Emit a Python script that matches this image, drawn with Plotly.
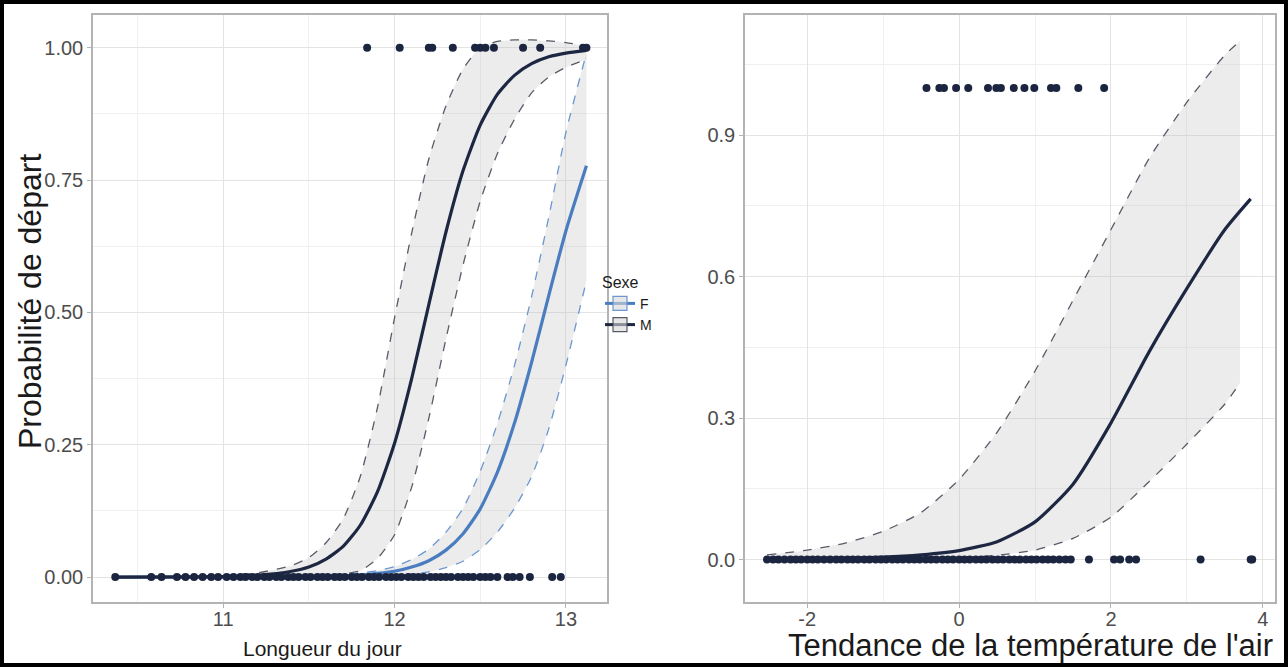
import plotly.graph_objects as go

# ---------------- Left panel data (day length) ----------------
day_grid = [10.37, 10.8, 11.0, 11.2, 11.4, 11.5, 11.6, 11.7, 11.8, 11.9, 12.0, 12.1,
            12.2, 12.3, 12.4, 12.5, 12.6, 12.7, 12.8, 12.9, 13.0, 13.12]
M_fit = [0.0, 0.0004, 0.0011, 0.0035, 0.011, 0.019, 0.034, 0.058, 0.098, 0.161, 0.253, 0.375,
         0.515, 0.652, 0.768, 0.854, 0.912, 0.948, 0.970, 0.983, 0.990, 0.995]
M_upper = [0.0, 0.001, 0.003, 0.008, 0.022, 0.037, 0.065, 0.11, 0.19, 0.32, 0.49, 0.65,
           0.79, 0.89, 0.96, 1.0, 1.012, 1.015, 1.015, 1.013, 1.01, 1.003]
M_lower = [0.0, 0.0, 0.0, 0.0003, 0.001, 0.002, 0.004, 0.006, 0.012, 0.035, 0.08, 0.17,
           0.30, 0.45, 0.59, 0.71, 0.80, 0.865, 0.915, 0.945, 0.963, 0.978]
F_fit = [0.0, 0.00005, 0.0001, 0.0002, 0.0005, 0.0008, 0.0015, 0.0025, 0.004, 0.007, 0.011, 0.019,
         0.031, 0.051, 0.082, 0.129, 0.198, 0.291, 0.406, 0.532, 0.654, 0.777]
F_upper = [0.0, 0.0001, 0.0003, 0.0006, 0.0015, 0.002, 0.003, 0.005, 0.008, 0.012, 0.02, 0.033,
           0.053, 0.085, 0.13, 0.2, 0.29, 0.40, 0.53, 0.68, 0.84, 0.99]
F_lower = [0.0, 0.0, 0.0, 0.0, 0.0, 0.0001, 0.0003, 0.0005, 0.001, 0.002, 0.003, 0.006,
           0.01, 0.018, 0.03, 0.052, 0.085, 0.13, 0.19, 0.28, 0.40, 0.56]

day_departed = [11.84, 12.03, 12.20, 12.22, 12.34, 12.47, 12.50, 12.53, 12.58, 12.75, 12.85, 13.10, 13.12]
day_stayed = [10.37, 10.58, 10.64, 10.73, 10.78, 10.83, 10.88, 10.93, 10.97, 11.02, 11.06, 11.10,
              11.13, 11.17, 11.20, 11.24, 11.27, 11.31, 11.34, 11.38, 11.41, 11.44, 11.48, 11.51,
              11.55, 11.58, 11.61, 11.65, 11.68, 11.71, 11.75, 11.78, 11.81, 11.85, 11.88, 11.91,
              11.95, 11.98, 12.01, 12.04, 12.08, 12.11, 12.14, 12.17, 12.21, 12.24, 12.27, 12.30,
              12.33, 12.37, 12.40, 12.43, 12.46, 12.50, 12.53, 12.56, 12.60, 12.66, 12.69, 12.73,
              12.79, 12.92, 12.97]

# ---------------- Right panel data (air temperature trend) ----------------
temp_grid = [-2.53, -2.0, -1.5, -1.0, -0.5, 0.0, 0.5, 1.0, 1.5, 2.0, 2.5, 3.0, 3.5, 3.84]
temp_fit = [0.001, 0.002, 0.003, 0.005, 0.01, 0.019, 0.038, 0.08, 0.16, 0.29, 0.44, 0.575,
            0.70, 0.765]
ci_grid = [-2.53, -2.0, -1.5, -1.0, -0.5, 0.0, 0.5, 1.0, 1.5, 2.0, 2.5, 3.0, 3.5, 3.7]
temp_upper = [0.01, 0.02, 0.035, 0.06, 0.1, 0.17, 0.27, 0.40, 0.55, 0.70, 0.85, 0.97, 1.07, 1.10]
temp_lower = [0.0, 0.0, 0.0, 0.001, 0.002, 0.004, 0.009, 0.02, 0.045, 0.09, 0.165, 0.245, 0.33, 0.375]

temp_departed = [-0.43, -0.26, -0.20, -0.04, 0.12, 0.38, 0.49, 0.55, 0.72, 0.86, 0.99, 1.21,
                 1.28, 1.57, 1.91]
temp_stayed = [-2.53, -2.45, -2.38, -2.30, -2.22, -2.15, -2.08, -2.00, -1.93, -1.86, -1.78, -1.70,
               -1.62, -1.55, -1.47, -1.40, -1.33, -1.25, -1.18, -1.10, -1.03, -0.96, -0.88, -0.81,
               -0.74, -0.66, -0.59, -0.52, -0.44, -0.37, -0.30, -0.22, -0.15, -0.08, 0.00, 0.07,
               0.14, 0.22, 0.29, 0.36, 0.44, 0.51, 0.58, 0.66, 0.73, 0.80, 0.88, 0.95, 1.02, 1.10,
               1.17, 1.24, 1.32, 1.40, 1.47, 1.71, 2.04, 2.12, 2.24, 2.33, 3.18, 3.84, 3.86]

sex_labels = ["F", "M"]
y_ticks_left = [0.0, 0.25, 0.5, 0.75, 1.0]
y_ticktext_left = ["0.00", "0.25", "0.50", "0.75", "1.00"]
x_ticks_left = [11, 12, 13]
y_ticks_right = [0.0, 0.3, 0.6, 0.9]
y_ticktext_right = ["0.0", "0.3", "0.6", "0.9"]
x_ticks_right = [-2, 0, 2, 4]
x_ticktext_right = ["-2", "0", "2", "4"]

# ---------------- Styling ----------------
NAVY = "#1d2742"
BLUE = "#4a7dc0"
M_DASH = "rgba(70,74,88,0.9)"
F_DASH = "rgba(100,145,205,0.95)"
RIBBON = "rgba(185,185,185,0.28)"
POINT = "#1c2540"
FONT = "Liberation Sans, Arial, sans-serif"
TITLE_COL = "#1a1a1a"

fig = go.Figure()


def ribbon(x, lo, hi, dash_color, xa, ya):
    fig.add_trace(go.Scatter(x=x, y=lo, mode="lines", line=dict(color=dash_color, width=1.3, dash="dash",
                                                                 shape="spline", smoothing=0.6),
                             showlegend=False, hoverinfo="skip", xaxis=xa, yaxis=ya))
    fig.add_trace(go.Scatter(x=x, y=hi, mode="lines", fill="tonexty", fillcolor=RIBBON,
                             line=dict(color=dash_color, width=1.3, dash="dash", shape="spline", smoothing=0.6),
                             showlegend=False, hoverinfo="skip", xaxis=xa, yaxis=ya))


# Left ribbons
ribbon(day_grid, M_lower, M_upper, M_DASH, "x", "y")
ribbon(day_grid, F_lower, F_upper, F_DASH, "x", "y")

# Left fitted lines
fig.add_trace(go.Scatter(x=day_grid, y=F_fit, mode="lines", name=sex_labels[0],
                         line=dict(color=BLUE, width=3.2, shape="spline", smoothing=0.6),
                         xaxis="x", yaxis="y", showlegend=False))
fig.add_trace(go.Scatter(x=day_grid, y=M_fit, mode="lines", name=sex_labels[1],
                         line=dict(color=NAVY, width=3.2, shape="spline", smoothing=0.6),
                         xaxis="x", yaxis="y", showlegend=False))

# Legend keys (ribbon box + line, like the ggplot key)
for lab, col, dcol in [(sex_labels[0], BLUE, F_DASH), (sex_labels[1], NAVY, M_DASH)]:
    fig.add_trace(go.Scatter(x=[None], y=[None], mode="lines+markers", name=lab,
                             line=dict(color=col, width=3),
                             marker=dict(symbol="square", size=14, color="rgba(215,215,215,0.6)",
                                         line=dict(color=dcol, width=1.2)),
                             xaxis="x", yaxis="y", showlegend=True))

# Left points
fig.add_trace(go.Scatter(x=day_stayed, y=[0] * len(day_stayed), mode="markers",
                         marker=dict(color=POINT, size=8), showlegend=False, xaxis="x", yaxis="y"))
fig.add_trace(go.Scatter(x=day_departed, y=[1] * len(day_departed), mode="markers",
                         marker=dict(color=POINT, size=8), showlegend=False, xaxis="x", yaxis="y"))

# Right ribbon + line
ribbon(ci_grid, temp_lower, temp_upper, M_DASH, "x2", "y2")
fig.add_trace(go.Scatter(x=temp_grid, y=temp_fit, mode="lines",
                         line=dict(color=NAVY, width=3.2, shape="spline", smoothing=0.6),
                         showlegend=False, xaxis="x2", yaxis="y2"))
fig.add_trace(go.Scatter(x=temp_stayed, y=[0] * len(temp_stayed), mode="markers",
                         marker=dict(color=POINT, size=8), showlegend=False, xaxis="x2", yaxis="y2"))
fig.add_trace(go.Scatter(x=temp_departed, y=[1] * len(temp_departed), mode="markers",
                         marker=dict(color=POINT, size=8), showlegend=False, xaxis="x2", yaxis="y2"))

axis_common = dict(showline=True, mirror=True, linecolor="#b3b3b3", linewidth=1.5,
                   gridcolor="#e3e3e3", gridwidth=1, zeroline=False,
                   ticks="outside", ticklen=4, tickcolor="#b3b3b3",
                   tickfont=dict(family=FONT, size=20, color="#4d4d4d"))

W, H = 1288, 667
ydom = [1 - 602 / H, 1 - 15 / H]

fig.update_layout(
    width=W, height=H,
    margin=dict(l=0, r=0, t=0, b=0),
    paper_bgcolor="white", plot_bgcolor="white",
    font=dict(family=FONT),
    xaxis=dict(domain=[93 / W, 607 / W], range=[10.24, 13.24], tickmode="array",
               tickvals=x_ticks_left, ticktext=[str(v) for v in x_ticks_left],
               minor=dict(showgrid=True, gridcolor="#f0f0f0", tickvals=[10.5, 11.5, 12.5]),
               ticklabelstandoff=-6, anchor="y", **axis_common),
    yaxis=dict(domain=ydom, range=[-0.047, 1.062], tickmode="array",
               tickvals=y_ticks_left, ticktext=y_ticktext_left,
               minor=dict(showgrid=True, gridcolor="#f0f0f0", tickvals=[0.125, 0.375, 0.625, 0.875]),
               anchor="x", **axis_common),
    xaxis2=dict(domain=[745 / W, 1275 / W], range=[-2.82, 4.16], tickmode="array",
                tickvals=x_ticks_right, ticktext=x_ticktext_right,
                minor=dict(showgrid=True, gridcolor="#f0f0f0", tickvals=[-1, 1, 3]),
                ticklabelstandoff=-6, anchor="y2", **axis_common),
    yaxis2=dict(domain=ydom, range=[-0.09, 1.155], tickmode="array",
                tickvals=y_ticks_right, ticktext=y_ticktext_right,
                minor=dict(showgrid=True, gridcolor="#f0f0f0", tickvals=[0.15, 0.45, 0.75, 1.05]),
                anchor="x2", **axis_common),
    legend=dict(x=600 / W, y=1 - 267 / H, xanchor="left", yanchor="top", traceorder="normal",
                title=dict(text="Sexe", font=dict(size=16, color=TITLE_COL)),
                font=dict(size=14, color=TITLE_COL), bgcolor="rgba(0,0,0,0)",
                itemwidth=30, tracegroupgap=0),
    annotations=[
        dict(text="Longueur du jour", xref="paper", yref="paper", x=322 / W, y=1 - 648 / H,
             xanchor="center", yanchor="middle", showarrow=False,
             font=dict(size=21, color=TITLE_COL, family=FONT)),
        dict(text="Tendance de la température de l'air", xref="paper", yref="paper",
             x=1030 / W, y=1 - 645 / H, xanchor="center", yanchor="middle", showarrow=False,
             font=dict(size=31, color=TITLE_COL, family=FONT)),
        dict(text="Probabilité de départ", xref="paper", yref="paper", x=30 / W, y=1 - 302 / H,
             xanchor="center", yanchor="middle", showarrow=False, textangle=-90,
             font=dict(size=32, color=TITLE_COL, family=FONT)),
    ],
    shapes=[dict(type="rect", xref="paper", yref="paper", x0=0, y0=0, x1=1, y1=1,
                 line=dict(color="black", width=8), fillcolor="rgba(0,0,0,0)", layer="above")],
)

fig.write_html("out.html", config={"displayModeBar": False},
               post_script="document.body.style.margin='0px';")
